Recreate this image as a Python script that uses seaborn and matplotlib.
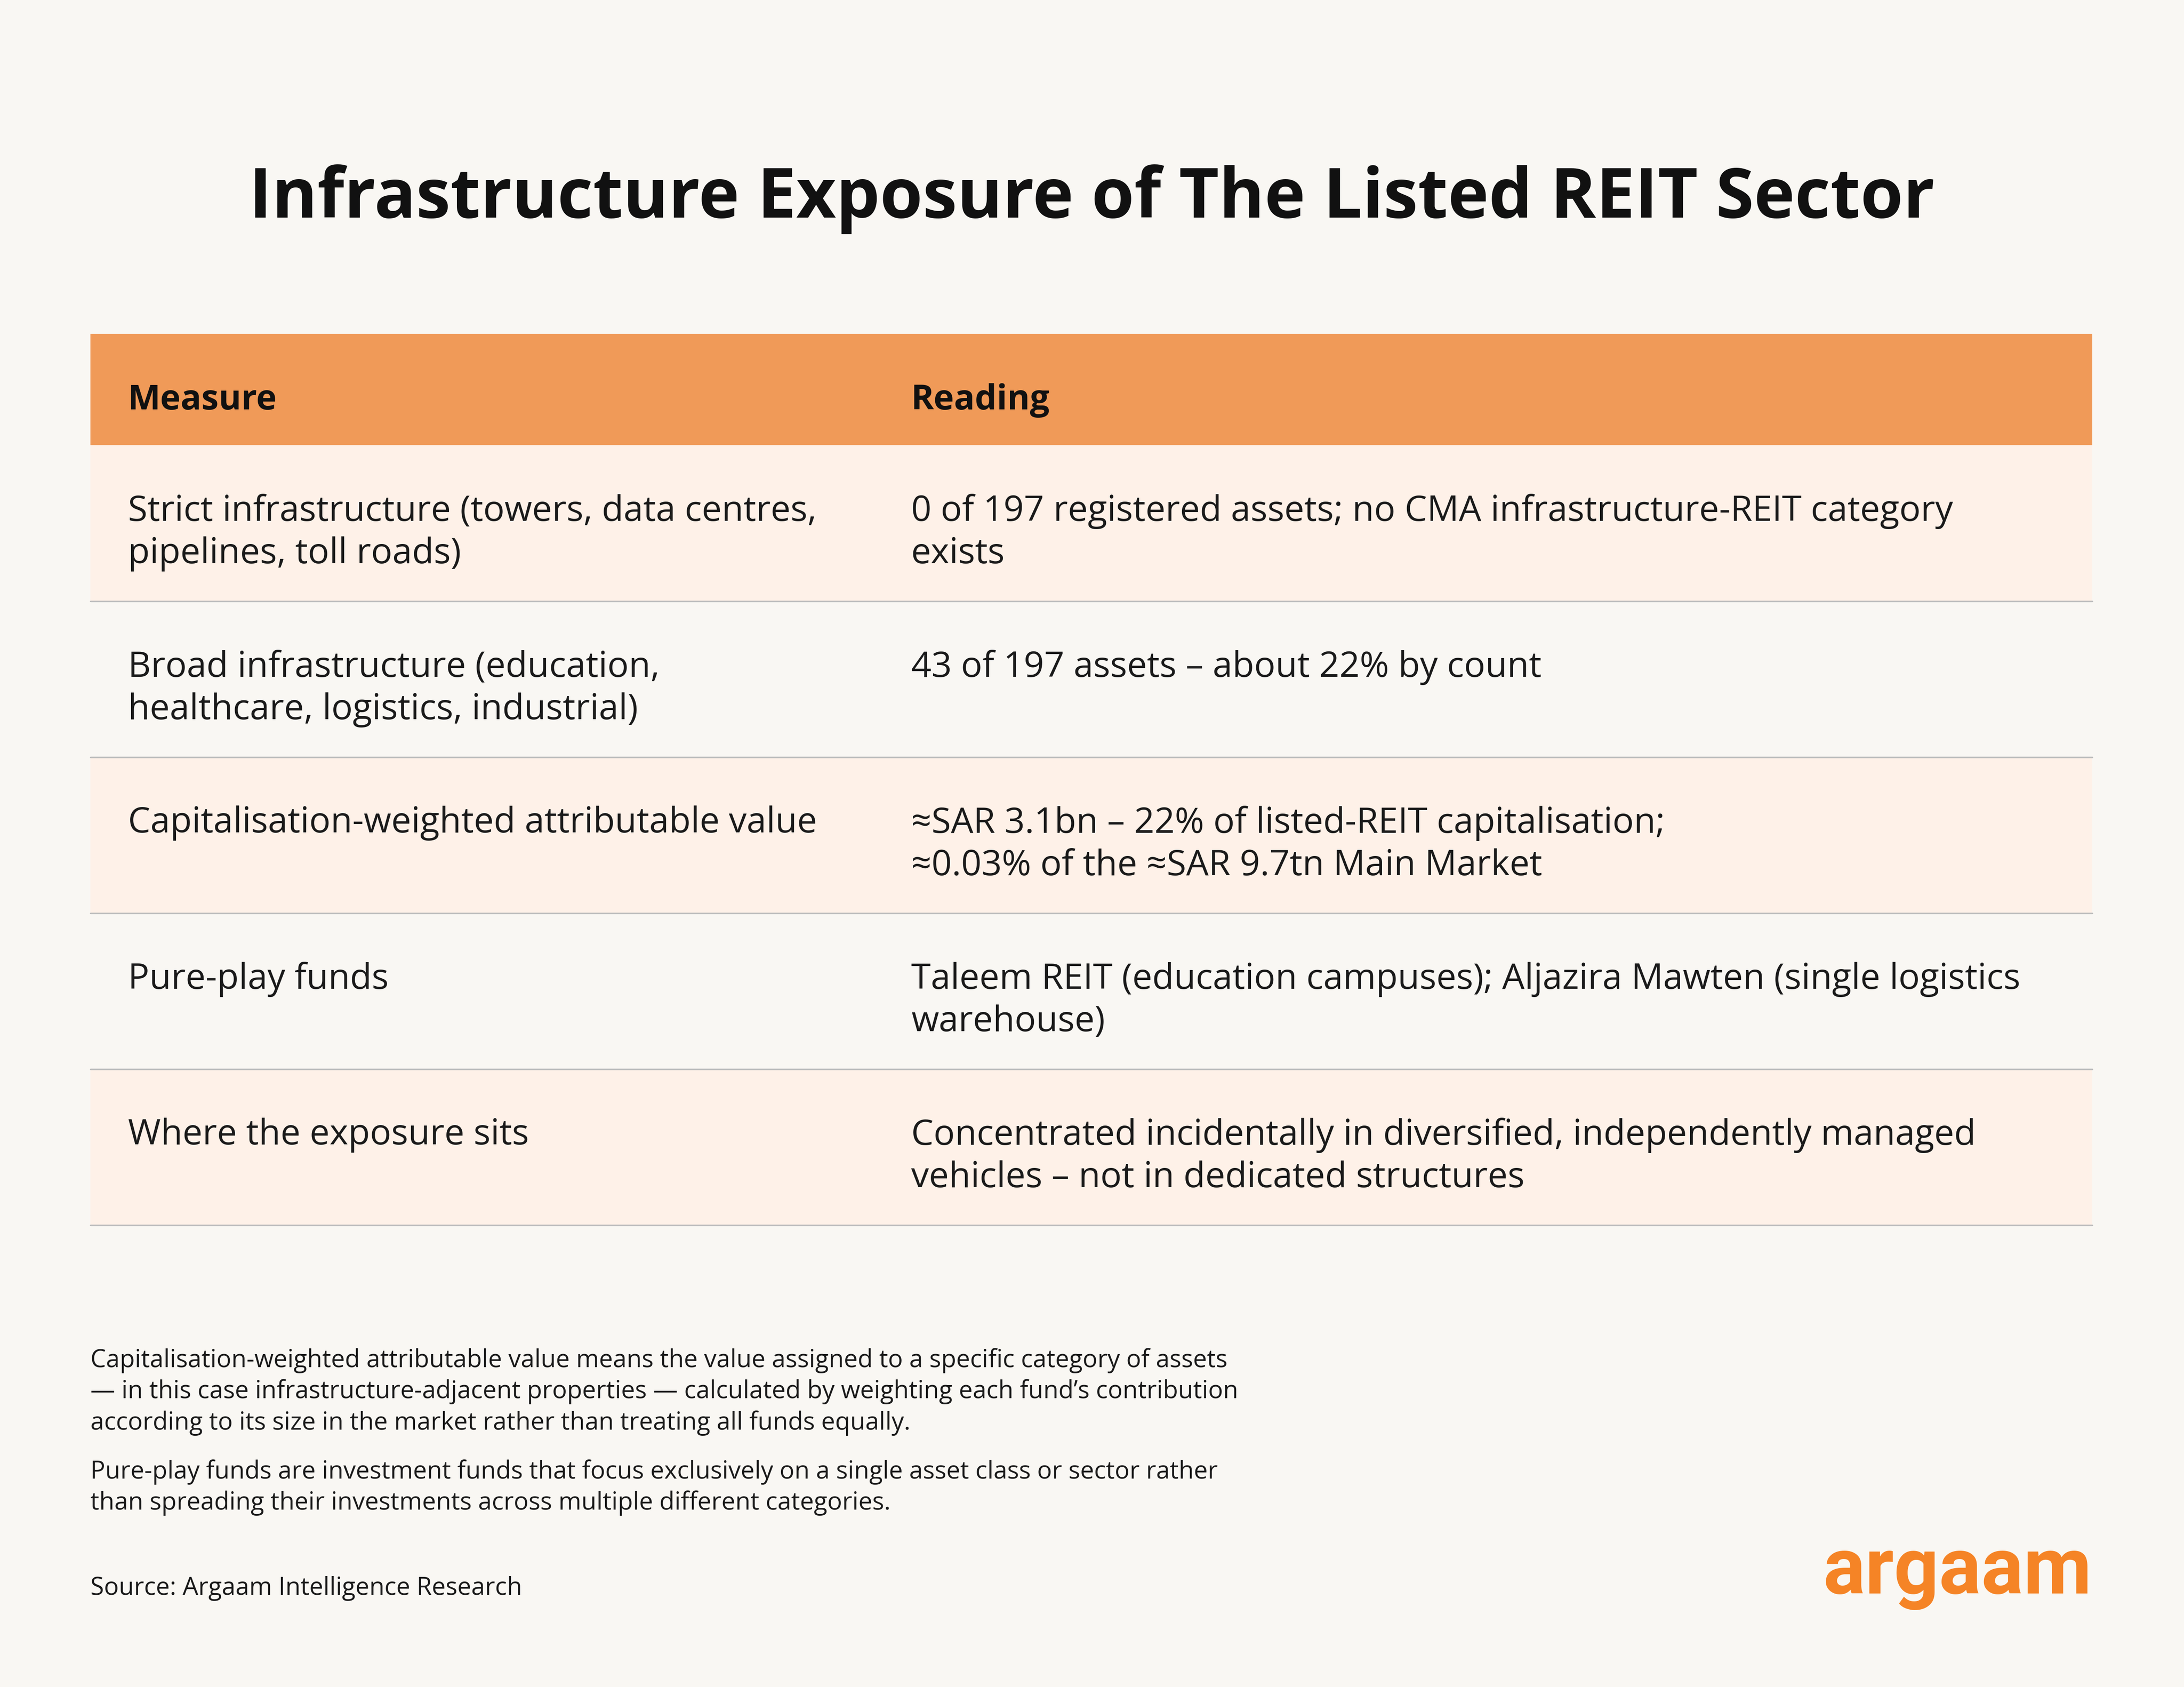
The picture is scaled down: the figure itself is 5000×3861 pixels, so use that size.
import matplotlib
matplotlib.use("Agg")
import matplotlib.pyplot as plt
import seaborn as sns
from matplotlib.patches import Rectangle

# --- content ---
title = "Infrastructure Exposure of The Listed REIT Sector"
columns = ["Measure", "Reading"]
measures = [
    "Strict infrastructure (towers, data centres,\npipelines, toll roads)",
    "Broad infrastructure (education,\nhealthcare, logistics, industrial)",
    "Capitalisation-weighted attributable value",
    "Pure-play funds",
    "Where the exposure sits",
]
readings = [
    "0 of 197 registered assets; no CMA infrastructure-REIT category\nexists",
    "43 of 197 assets \u2013 about 22% by count",
    "\u2248SAR 3.1bn \u2013 22% of listed-REIT capitalisation;\n\u22480.03% of the \u2248SAR 9.7tn Main Market",
    "Taleem REIT (education campuses); Aljazira Mawten (single logistics\nwarehouse)",
    "Concentrated incidentally in diversified, independently managed\nvehicles \u2013 not in dedicated structures",
]
notes = [
    "Capitalisation-weighted attributable value means the value assigned to a specific category of assets\n"
    "\u2014 in this case infrastructure-adjacent properties \u2014 calculated by weighting each fund\u2019s contribution\n"
    "according to its size in the market rather than treating all funds equally.",
    "Pure-play funds are investment funds that focus exclusively on a single asset class or sector rather\n"
    "than spreading their investments across multiple different categories.",
]
source = "Source: Argaam Intelligence Research"
brand = "argaam"

# --- style ---
BG = "#F9F7F3"
HEAD = "#F09A58"
STRIPE = "#FEF1E8"
RULE = "#BDBDBD"
LOGO = "#F58426"

sns.set_theme(style="white")
plt.rcParams["font.family"] = ["Open Sans", "DejaVu Sans"]

W, H = 5000, 3862
fig = plt.figure(figsize=(W / 100, H / 100), dpi=100, facecolor=BG)
ax = fig.add_axes([0, 0, 1, 1])
ax.set_xlim(0, W)
ax.set_ylim(H, 0)
ax.set_facecolor(BG)
ax.axis("off")

ax.text(W / 2, 456, title, ha="center", va="center", fontsize=114,
        fontweight="bold", color="#111111")

left, right = 207, 4790
col2_x = 2086
pad = 86
head_top, head_bot = 765, 1020
row_h = 357

ax.add_patch(Rectangle((left, head_top), right - left, head_bot - head_top,
                       facecolor=HEAD, edgecolor="none"))
for x, lab in zip([left + pad, col2_x], columns):
    ax.text(x, (head_top + head_bot) / 2 + 24, lab, ha="left", va="center",
            fontsize=57, fontweight="bold", color="#111111")

for i, (m, r) in enumerate(zip(measures, readings)):
    top = head_bot + i * row_h
    if i % 2 == 0:
        ax.add_patch(Rectangle((left, top), right - left, row_h,
                               facecolor=STRIPE, edgecolor="none"))
    ax.plot([left, right], [top + row_h, top + row_h], color=RULE, lw=2.5)
    for x, txt in zip([left + pad, col2_x], [m, r]):
        ax.text(x, top + 110, txt, ha="left", va="top", fontsize=58.5,
                color="#1a1a1a", linespacing=1.27)

note_y = [3085, 3340]
for y, n in zip(note_y, notes):
    ax.text(left, y, n, ha="left", va="top", fontsize=40.7, color="#1a1a1a",
            linespacing=1.31)
ax.text(left, 3636, source, ha="left", va="center", fontsize=40.7, color="#1a1a1a")

ax.text(right, 3598, brand, ha="right", va="center", fontsize=130,
        fontweight="bold", color=LOGO, family=["Roboto", "DejaVu Sans"])

fig.savefig("out.png", dpi=100, facecolor=BG)
